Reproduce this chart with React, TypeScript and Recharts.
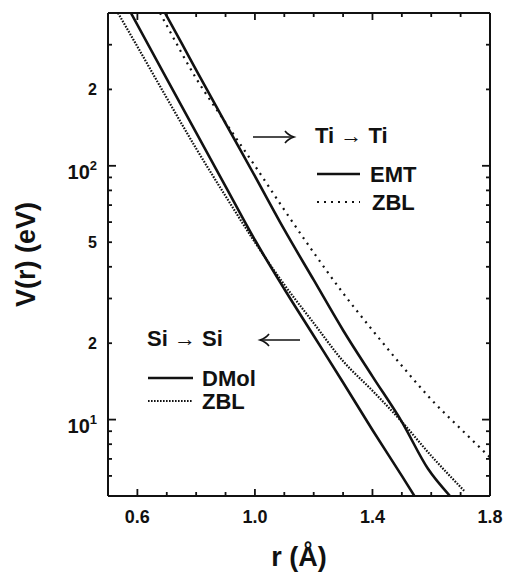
import React from 'react';
import { LineChart, Line, XAxis, YAxis } from 'recharts';

// r in Angstrom, V in eV
const siDmolR = [0.578, 0.7, 0.8, 0.9, 1.0, 1.1, 1.2, 1.3, 1.4, 1.5, 1.543];
const siDmolV = [400, 220, 135, 83, 51, 32.7, 21.4, 14, 9.1, 6.0, 5.0];

const siZblR = [0.534, 0.6, 0.7, 0.8, 0.9, 1.0, 1.1, 1.2, 1.3, 1.4, 1.5, 1.6, 1.715];
const siZblV = [400, 295, 185, 117, 76, 50, 34, 24, 17, 13, 9.8, 7.2, 5.2];

const tiEmtR = [0.694, 0.75, 0.803, 0.9, 1.0, 1.1, 1.2, 1.3, 1.4, 1.5, 1.589, 1.664];
const tiEmtV = [400, 305, 235, 147, 91, 56, 35.5, 22.5, 14.8, 9.8, 6.4, 5.0];

const tiZblR = [0.677, 0.7, 0.8, 0.9, 1.0, 1.1, 1.2, 1.3, 1.4, 1.5, 1.6, 1.7, 1.8];
const tiZblV = [400, 357, 221, 148, 100, 67, 45.5, 31.5, 22.5, 16.3, 12, 9.2, 7.1];

const xDomain = [0.5, 1.8];
const xTicks = [0.6, 0.7, 0.8, 0.9, 1.0, 1.1, 1.2, 1.3, 1.4, 1.5, 1.6, 1.7, 1.8];
const xLabeled = [0.6, 1.0, 1.4, 1.8];

const yDomain = [5, 400];
const yTicks = [6, 7, 8, 9, 10, 20, 30, 40, 50, 60, 70, 80, 90, 100, 200, 300];
const yMajor = [10, 100];
const yLabels: Record<number, [string, string]> = {
  10: ['10', '1'],
  20: ['2', ''],
  50: ['5', ''],
  100: ['10', '2'],
  200: ['2', ''],
};

const toPoints = (rs: number[], vs: number[]) => rs.map((r, i) => ({ r, v: vs[i] }));

const siDmol = toPoints(siDmolR, siDmolV);
const siZbl = toPoints(siZblR, siZblV);
const tiEmt = toPoints(tiEmtR, tiEmtV);
const tiZbl = toPoints(tiZblR, tiZblV);

const FONT = '"Liberation Sans", Arial, Helvetica, sans-serif';
const INK = '#111';

const isMajorX = (v: number) => xLabeled.some((m) => Math.abs(m - v) < 1e-6);

// ticks point into the plot, so every axis draws its own short marks
const BottomTick = (props: any) => {
  const { x, y, payload } = props;
  const v = payload.value;
  const major = isMajorX(v);
  return (
    <g>
      <path d={`M${x},${y} L${x},${y - (major ? 7 : 4)}`} stroke={INK} strokeWidth={1.8} fill="none" />
      {major && (
        <text x={x} y={y + 27} textAnchor="middle" fontSize={18} fontWeight="bold" fontFamily={FONT} fill={INK}>
          {v.toFixed(1)}
        </text>
      )}
    </g>
  );
};

const TopTick = (props: any) => {
  const { x, y, payload } = props;
  const major = isMajorX(payload.value);
  return <path d={`M${x},${y} L${x},${y + (major ? 7 : 4)}`} stroke={INK} strokeWidth={1.8} fill="none" />;
};

const LeftTick = (props: any) => {
  const { x, y, payload } = props;
  const v = payload.value;
  const lab = yLabels[v];
  const big = yMajor.includes(v);
  return (
    <g>
      <path d={`M${x},${y} L${x + (big ? 8 : 4)},${y}`} stroke={INK} strokeWidth={1.8} fill="none" />
      {lab && (
        <text
          x={x - 11}
          y={big ? y + 13 : y + 6}
          textAnchor="end"
          fontSize={big ? 20 : 16}
          fontWeight="bold"
          fontFamily={FONT}
          fill={INK}
        >
          {lab[0]}
          {lab[1] && (
            <tspan dy={-9} fontSize={13}>
              {lab[1]}
            </tspan>
          )}
        </text>
      )}
    </g>
  );
};

const RightTick = (props: any) => {
  const { x, y, payload } = props;
  const big = yMajor.includes(payload.value);
  return <path d={`M${x},${y} L${x - (big ? 8 : 4)},${y}`} stroke={INK} strokeWidth={1.8} fill="none" />;
};

const legendText = { fontFamily: FONT, fontWeight: 'bold' as const, fontSize: 22, fill: INK };

export default function App() {
  return (
    <div style={{ position: 'absolute', left: 0, top: 0, width: 507, height: 573, background: '#fff', fontFamily: FONT }}>
      <LineChart width={507} height={573} margin={{ top: 12, right: 16, bottom: 0, left: 0 }}>
        <XAxis
          xAxisId="b"
          type="number"
          dataKey="r"
          domain={xDomain}
          allowDataOverflow
          ticks={xTicks}
          interval={0}
          height={77}
          tickSize={0}
          tickMargin={0}
          tickLine={false}
          tick={<BottomTick />}
          axisLine={{ stroke: INK, strokeWidth: 2 }}
          label={{ value: 'r (Å)', position: 'insideBottom', offset: 7, fontSize: 27, fontWeight: 'bold', fill: INK }}
        />
        <XAxis
          xAxisId="t"
          orientation="top"
          type="number"
          dataKey="r"
          domain={xDomain}
          allowDataOverflow
          ticks={xTicks}
          interval={0}
          height={1}
          tickSize={0}
          tickMargin={0}
          tickLine={false}
          tick={<TopTick />}
          axisLine={{ stroke: INK, strokeWidth: 2 }}
        />
        <YAxis
          yAxisId="l"
          scale="log"
          type="number"
          domain={yDomain}
          allowDataOverflow
          ticks={yTicks}
          interval={0}
          width={108}
          tickSize={0}
          tickMargin={0}
          tickLine={false}
          tick={<LeftTick />}
          axisLine={{ stroke: INK, strokeWidth: 2 }}
          label={{
            value: 'V(r) (eV)',
            angle: -90,
            position: 'insideLeft',
            offset: 25,
            fontSize: 27,
            fontWeight: 'bold',
            fill: INK,
            style: { textAnchor: 'middle' },
          }}
        />
        <YAxis
          yAxisId="r"
          orientation="right"
          scale="log"
          type="number"
          domain={yDomain}
          allowDataOverflow
          ticks={yTicks}
          interval={0}
          width={1}
          tickSize={0}
          tickMargin={0}
          tickLine={false}
          tick={<RightTick />}
          axisLine={{ stroke: INK, strokeWidth: 2 }}
        />
        <Line xAxisId="b" yAxisId="l" data={siZbl} dataKey="v" type="monotone" stroke={INK} strokeWidth={2.2} strokeDasharray="1.6 1.4" dot={false} isAnimationActive={false} />
        <Line xAxisId="b" yAxisId="l" data={siDmol} dataKey="v" type="monotone" stroke={INK} strokeWidth={2.6} dot={false} isAnimationActive={false} />
        <Line xAxisId="b" yAxisId="l" data={tiZbl} dataKey="v" type="monotone" stroke={INK} strokeWidth={2.2} strokeDasharray="2 5" dot={false} isAnimationActive={false} />
        <Line xAxisId="b" yAxisId="l" data={tiEmt} dataKey="v" type="monotone" stroke={INK} strokeWidth={2.6} dot={false} isAnimationActive={false} />
      </LineChart>
      <svg width={507} height={573} style={{ position: 'absolute', left: 0, top: 0, pointerEvents: 'none' }}>
        {/* Ti -> Ti group */}
        <line x1={253} y1={137} x2={293} y2={137} stroke={INK} strokeWidth={1.6} />
        <path d="M285,131 Q288,135 294,137 Q288,139 285,143" fill="none" stroke={INK} strokeWidth={1.6} />
        <text x={315} y={143} {...legendText}>Ti → Ti</text>
        <line x1={317} y1={174} x2={360} y2={174} stroke={INK} strokeWidth={2.6} />
        <text x={370} y={182} {...legendText}>EMT</text>
        <line x1={317} y1={202} x2={360} y2={202} stroke={INK} strokeWidth={2.2} strokeDasharray="2 5" />
        <text x={372} y={210} {...legendText}>ZBL</text>
        {/* Si -> Si group */}
        <text x={147} y={346} {...legendText}>Si → Si</text>
        <line x1={260} y1={340} x2={300} y2={340} stroke={INK} strokeWidth={1.6} />
        <path d="M269,334 Q266,338 260,340 Q266,342 269,346" fill="none" stroke={INK} strokeWidth={1.6} />
        <line x1={148} y1={378} x2={193} y2={378} stroke={INK} strokeWidth={2.6} />
        <text x={202} y={386} {...legendText}>DMol</text>
        <line x1={148} y1={401} x2={193} y2={401} stroke={INK} strokeWidth={2.2} strokeDasharray="1.6 1.4" />
        <text x={202} y={409} {...legendText}>ZBL</text>
      </svg>
    </div>
  );
}
